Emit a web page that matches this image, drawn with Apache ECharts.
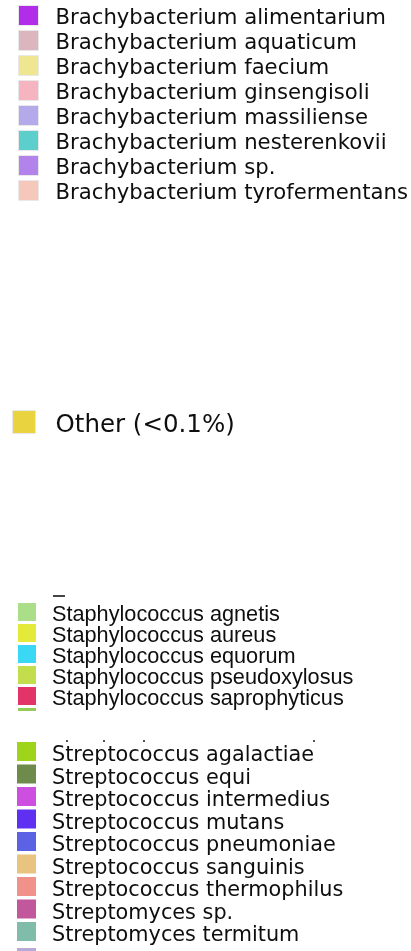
<!DOCTYPE html>
<html><head><meta charset="utf-8">
<script src="https://cdn.jsdelivr.net/npm/echarts@6/dist/echarts.min.js"></script>
<style>html,body{margin:0;padding:0;background:#fff}#c{width:411px;height:951px}</style>
</head><body><div id="c"></div>
<script>
// ---- data ----
const brachyNames = [
  'Brachybacterium alimentarium',
  'Brachybacterium aquaticum',
  'Brachybacterium faecium',
  'Brachybacterium ginsengisoli',
  'Brachybacterium massiliense',
  'Brachybacterium nesterenkovii',
  'Brachybacterium sp.',
  'Brachybacterium tyrofermentans'
];
const otherNames = ['Other (<0.1%)'];
const staphNames = [
  'Staphylococcus agnetis',
  'Staphylococcus aureus',
  'Staphylococcus equorum',
  'Staphylococcus pseudoxylosus',
  'Staphylococcus saprophyticus'
];
const strepNames = [
  'Streptococcus agalactiae',
  'Streptococcus equi',
  'Streptococcus intermedius',
  'Streptococcus mutans',
  'Streptococcus pneumoniae',
  'Streptococcus sanguinis',
  'Streptococcus thermophilus',
  'Streptomyces sp.',
  'Streptomyces termitum'
];
// ---- colours ----
const brachyColors = ['#b12de9','#dcb6bf','#efe692','#f6b3c0','#b4a9ea','#5ccfcc','#b283ea','#f5c8bb'];
const otherColors = ['#e9d440'];
const staphColors = ['#aade88','#e4ea3a','#3ad8f4','#c2de4c','#e23468'];
const strepColors = ['#9ed41a','#6e8b4c','#cd4fdf','#5f2ff2','#5b63e4','#e9c380','#f1928a','#c1589b','#7fbcaa'];

function iconPath(w, h, s) {
  return 'path://M0,0L' + s + ',0L' + s + ',' + s + 'L0,' + s + 'ZM' + w + ',' + h + 'L' + w + ',' + h;
}
function mkSeries(names, colors) {
  return names.map((n, i) => ({ type: 'bar', name: n, data: [], itemStyle: { color: colors[i] } }));
}
function mkLegend(names, o) {
  return {
    orient: 'vertical', left: o.left, top: o.top, padding: 0,
    itemGap: o.gap, itemWidth: o.w, itemHeight: o.h,
    icon: iconPath(o.w, o.h, o.s), selectedMode: false,
    itemStyle: o.border ? { borderColor: '#e8e8e8', borderWidth: 1 } : { borderWidth: 0 },
    textStyle: { fontFamily: o.font, fontSize: o.fs, color: '#0e0e0e', lineHeight: 10 },
    data: names
  };
}

const chart = echarts.init(document.getElementById('c'));
chart.setOption({
  backgroundColor: '#ffffff',
  animation: false,
  grid: { show: false, left: 0, right: 0, top: 0, bottom: 0 },
  xAxis: { show: false, type: 'category', data: [] },
  yAxis: { show: false, type: 'value' },
  legend: [
    mkLegend(brachyNames, { left: 18, top: 5, gap: -1, w: 32, h: 25, s: 20, font: 'DejaVu Sans', fs: 21.2, border: true }),
    mkLegend(otherNames, { left: 12, top: 410, gap: 0, w: 38, h: 30, s: 23, font: 'DejaVu Sans', fs: 24.5, border: true }),
    mkLegend(staphNames, { left: 18, top: 603, gap: -4, w: 29, h: 25, s: 18, font: 'Liberation Sans', fs: 21.7, border: false }),
    mkLegend(strepNames, { left: 17, top: 742, gap: -5.5, w: 30, h: 28, s: 19, font: 'DejaVu Sans', fs: 20.8, border: false })
  ],
  graphic: [
    { type: 'rect', shape: { x: 53, y: 595, width: 12, height: 2 }, style: { fill: '#444' } },
    { type: 'rect', shape: { x: 18, y: 708, width: 18, height: 3 }, style: { fill: '#93cc55' } },
    { type: 'rect', shape: { x: 66, y: 740, width: 2, height: 2 }, style: { fill: '#555' } },
    { type: 'rect', shape: { x: 103, y: 740, width: 2, height: 2 }, style: { fill: '#555' } },
    { type: 'rect', shape: { x: 143, y: 740, width: 2, height: 2 }, style: { fill: '#555' } },
    { type: 'rect', shape: { x: 313, y: 740, width: 2, height: 2 }, style: { fill: '#555' } },
    { type: 'rect', shape: { x: 17, y: 948, width: 19, height: 3 }, style: { fill: '#b9a9d9' } }
  ],
  series: [].concat(
    mkSeries(brachyNames, brachyColors),
    mkSeries(otherNames, otherColors),
    mkSeries(staphNames, staphColors),
    mkSeries(strepNames, strepColors)
  )
});
</script>
</body></html>
